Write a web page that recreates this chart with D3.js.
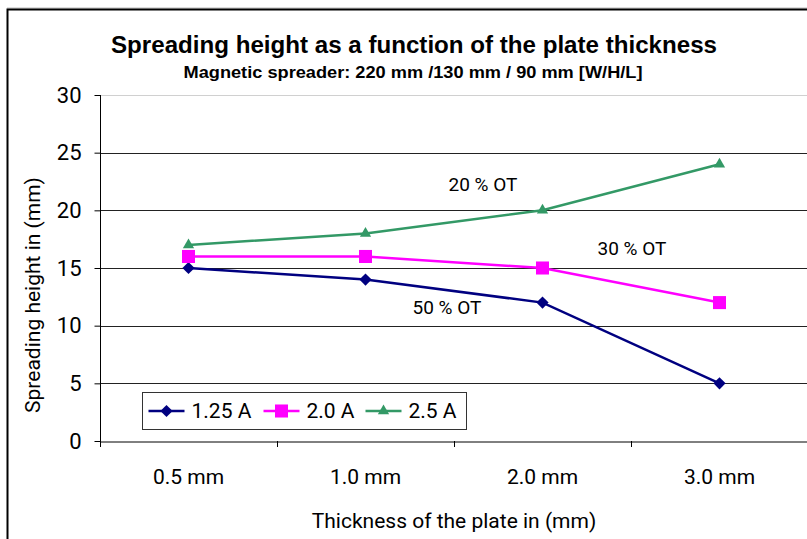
<!DOCTYPE html>
<html>
<head>
<meta charset="utf-8">
<script src="https://cdn.jsdelivr.net/npm/d3@7"></script>
<style>
  html, body { margin: 0; padding: 0; background: #fff; }
  svg { display: block; }
</style>
</head>
<body>
<div id="chart"></div>
<script>
// Chart data
const categories = ['0.5 mm', '1.0 mm', '2.0 mm', '3.0 mm']
const seriesNames = ['1.25 A', '2.0 A', '2.5 A']
const values125 = [15, 14, 12, 5]
const values20 = [16, 16, 15, 12]
const values25 = [17, 18, 20, 24]
const yTicks = [0, 5, 10, 15, 20, 25, 30]
const notes = [
  { text: '20 % OT', cat: '2.0 mm', value: 22.2, dx: -94 },
  { text: '30 % OT', cat: '3.0 mm', value: 16.7, dx: -122 },
  { text: '50 % OT', cat: '2.0 mm', value: 11.6, dx: -130 }
]

const series = [
  { name: seriesNames[0], values: values125, color: '#000080', marker: 'diamond' },
  { name: seriesNames[1], values: values20, color: '#ff00ff', marker: 'square' },
  { name: seriesNames[2], values: values25, color: '#339966', marker: 'triangle' }
]

const width = 807, height = 539
const font = "Roboto, 'Liberation Sans', Arial, sans-serif"
const narrow = "'Liberation Sans Narrow', 'Arial Narrow', sans-serif"
const plot = { left: 100, right: 808, top: 95, bottom: 441 }

const svg = d3.select('#chart').append('svg')
  .attr('width', width).attr('height', height)

// Outer chart frame (runs off the right and bottom edge)
svg.append('line').attr('x1', 7).attr('x2', width).attr('y1', 8).attr('y2', 8)
  .attr('stroke', '#bbb').attr('stroke-width', 1)
svg.append('path')
  .attr('d', `M7.5,${height} V9.5 H${width}`)
  .attr('fill', 'none').attr('stroke', '#000').attr('stroke-width', 2)

const x = d3.scaleBand().domain(categories).range([plot.left, plot.right])
const y = d3.scaleLinear().domain([0, 30]).range([plot.bottom, plot.top])

// Titles
svg.append('text')
  .attr('x', 414).attr('y', 53)
  .attr('text-anchor', 'middle')
  .attr('textLength', 606).attr('lengthAdjust', 'spacingAndGlyphs')
  .style('font-family', narrow).style('font-weight', 'bold').style('font-size', '23px')
  .text('Spreading height as a function of the plate thickness')
svg.append('text')
  .attr('x', 413).attr('y', 78)
  .attr('text-anchor', 'middle')
  .attr('textLength', 459).attr('lengthAdjust', 'spacingAndGlyphs')
  .style('font-family', narrow).style('font-weight', 'bold').style('font-size', '16.5px')
  .text('Magnetic spreader: 220 mm /130 mm / 90 mm [W/H/L]')

// Horizontal gridlines
svg.append('g')
  .selectAll('line')
  .data(yTicks.filter(d => d > 0))
  .join('line')
  .attr('x1', plot.left).attr('x2', plot.right)
  .attr('y1', d => Math.round(y(d)) + 0.5).attr('y2', d => Math.round(y(d)) + 0.5)
  .attr('stroke', d => d === 30 ? '#d0d0d0' : '#222')
  .attr('stroke-width', 1)

// Y axis
const yAxis = svg.append('g')
  .attr('transform', `translate(${plot.left + 0.5},0)`)
  .call(d3.axisLeft(y).tickValues(yTicks).tickSize(6).tickPadding(13))
yAxis.select('.domain').attr('stroke', '#000').attr('d', `M0,${plot.top}V${plot.bottom}`)
yAxis.selectAll('.tick line').attr('stroke', '#000')
yAxis.selectAll('.tick text')
  .style('font-family', font).style('font-size', '22px').attr('fill', '#000')

// X axis
const xAxis = svg.append('g')
  .attr('transform', `translate(0,${plot.bottom + 0.5})`)
  .call(d3.axisBottom(x).tickSize(0).tickPadding(28))
xAxis.select('.domain').attr('stroke', '#000')
xAxis.selectAll('.tick text')
  .style('font-family', font).style('font-size', '21px').attr('fill', '#000')
svg.append('g')
  .selectAll('line')
  .data(categories.concat([null]))
  .join('line')
  .attr('x1', d => (d ? x(d) : plot.right) + 0.5)
  .attr('x2', d => (d ? x(d) : plot.right) + 0.5)
  .attr('y1', plot.bottom).attr('y2', plot.bottom + 6)
  .attr('stroke', '#000')

// Axis titles
svg.append('text')
  .attr('transform', 'translate(40,295) rotate(-90)')
  .attr('text-anchor', 'middle')
  .style('font-family', font).style('font-size', '21px')
  .text('Spreading height in (mm)')
svg.append('text')
  .attr('x', 454).attr('y', 528)
  .attr('text-anchor', 'middle')
  .style('font-family', font).style('font-size', '21px')
  .text('Thickness of the plate in (mm)')

// Marker shapes
const symbolFor = {
  diamond: d3.symbol().type(d3.symbolDiamond2).size(95),
  square: d3.symbol().type(d3.symbolSquare).size(170),
  triangle: d3.symbol().type(d3.symbolTriangle).size(55)
}

const cx = d => x(d) + x.bandwidth() / 2
const line = d3.line().x(d => cx(d.cat)).y(d => y(d.v))

series.forEach(s => {
  const pts = categories.map((c, i) => ({ cat: c, v: s.values[i] }))
  svg.append('path')
    .datum(pts)
    .attr('d', line)
    .attr('fill', 'none').attr('stroke', s.color).attr('stroke-width', 2.5)
  svg.append('g')
    .selectAll('path')
    .data(pts)
    .join('path')
    .attr('transform', d => `translate(${cx(d.cat)},${y(d.v)})`)
    .attr('d', symbolFor[s.marker]())
    .attr('fill', s.color)
})

// Annotations
svg.append('g')
  .selectAll('text')
  .data(notes)
  .join('text')
  .attr('x', d => cx(d.cat) + d.dx)
  .attr('y', d => y(d.value))
  .attr('dominant-baseline', 'central')
  .style('font-family', font).style('font-size', '19px')
  .text(d => d.text)

// Legend
const legend = svg.append('g').attr('transform', 'translate(142.5,392.5)')
legend.append('rect')
  .attr('width', 324).attr('height', 37)
  .attr('fill', '#fff').attr('stroke', '#333').attr('stroke-width', 1)
const legendX = [6, 121, 223]
series.forEach((s, i) => {
  const g = legend.append('g').attr('transform', `translate(${legendX[i]},18.5)`)
  g.append('line').attr('x1', 0).attr('x2', 36)
    .attr('stroke', s.color).attr('stroke-width', 2.5)
  g.append('path').attr('transform', 'translate(18,0)')
    .attr('d', symbolFor[s.marker]()).attr('fill', s.color)
  g.append('text')
    .attr('x', 43).attr('y', 0).attr('dominant-baseline', 'central')
    .style('font-family', font).style('font-size', '21px')
    .text(s.name)
})
</script>
</body>
</html>
